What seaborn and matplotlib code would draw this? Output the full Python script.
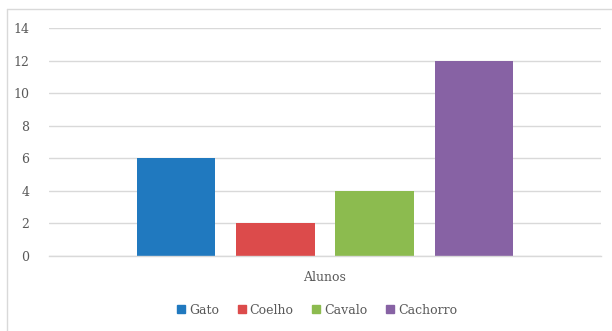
import matplotlib
matplotlib.use("Agg")
import matplotlib.pyplot as plt
import seaborn as sns
import pandas as pd
from matplotlib.lines import Line2D

categories = ["Gato", "Coelho", "Cavalo", "Cachorro"]
values = [6, 2, 4, 12]
group = "Alunos"
yticks = [0, 2, 4, 6, 8, 10, 12, 14]
colors = ["#2079BF", "#DC4B4B", "#8CBB4F", "#8762A4"]

sns.set_theme(style="white")
plt.rcParams["font.family"] = ["DejaVu Serif"]

df = pd.DataFrame({"grupo": [group] * len(categories), "animal": categories, "valor": values})

fig = plt.figure(figsize=(6.12, 3.31), dpi=100)
ax = fig.add_axes([49/612, 1 - 256/331, (601 - 49)/612, (256 - 28)/331])

sns.barplot(data=df, x="grupo", y="valor", hue="animal", hue_order=categories,
            palette=colors, width=0.72, gap=0.21, saturation=1, ax=ax, legend=False,
            linewidth=0)

ax.set_ylim(0, 14)
ax.set_xlim(-0.5, 0.5)
ax.set_yticks(yticks)
ax.set_yticklabels([str(t) for t in yticks])
ax.yaxis.grid(True, color="#D9D9D9", linewidth=1)
ax.set_axisbelow(True)
for name, s in ax.spines.items():
    s.set_visible(name == "bottom")
ax.spines["bottom"].set_color("#D9D9D9")
ax.spines["bottom"].set_linewidth(1)
ax.tick_params(axis="both", length=0, labelsize=9, colors="#595959")
ax.tick_params(axis="y", pad=14)
ax.tick_params(axis="x", pad=11)
ax.set_xlabel("")
ax.set_ylabel("")

handles = [Line2D([0], [0], marker="s", linestyle="", markersize=6,
                  markerfacecolor=c, markeredgecolor=c) for c in colors]
leg = fig.legend(handles, categories, loc="center", bbox_to_anchor=(316/612, 1 - 310/331),
                 ncol=4, frameon=False, fontsize=9, handletextpad=0.15, columnspacing=1.3,
                 handlelength=1.0)
for t in leg.get_texts():
    t.set_color("#595959")

# outer chart frame (top and left edges visible)
fig.add_artist(Line2D([7/612, 1.0], [1 - 9/331, 1 - 9/331], transform=fig.transFigure,
                      color="#D9D9D9", linewidth=1))
fig.add_artist(Line2D([7/612, 7/612], [0, 1 - 9/331], transform=fig.transFigure,
                      color="#D9D9D9", linewidth=1))

fig.savefig("out.png", dpi=100)
